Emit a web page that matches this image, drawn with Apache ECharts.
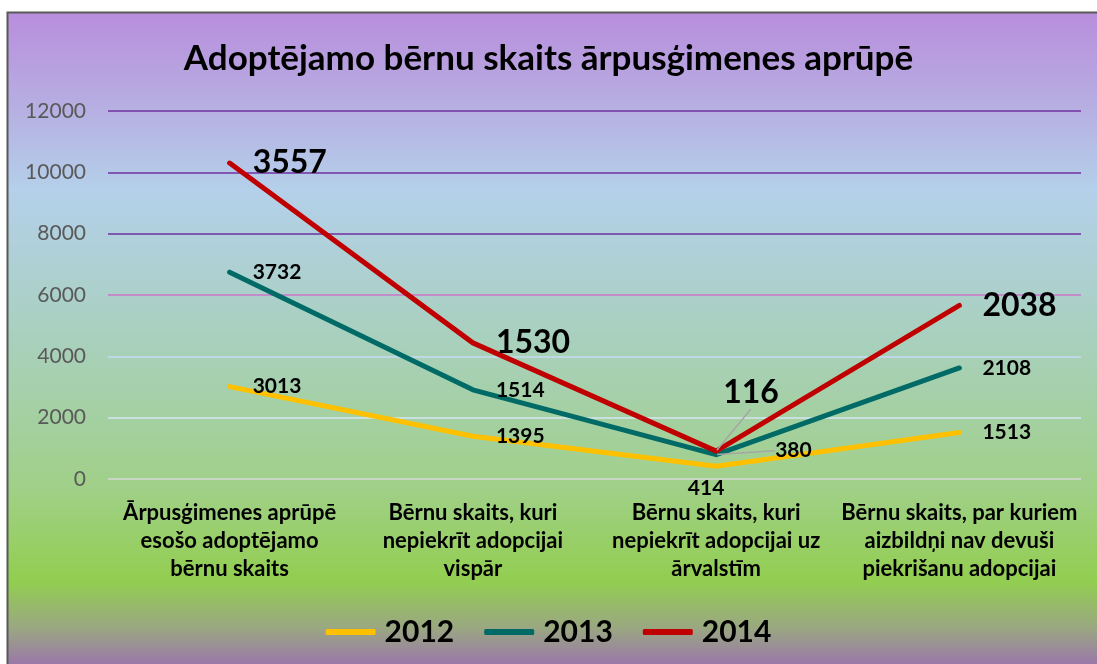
<!DOCTYPE html>
<html>
<head>
<meta charset="utf-8">
<script src="https://cdn.jsdelivr.net/npm/echarts@6/dist/echarts.min.js"></script>
<style>
  html, body { margin: 0; padding: 0; background: #fff; }
  #main { width: 1097px; height: 664px; }
</style>
</head>
<body>
<div id="main"></div>
<script>
// dati
const categories = [
    'Ārpusģimenes aprūpē\nesošo adoptējamo\nbērnu skaits',
    'Bērnu skaits, kuri\nnepiekrīt adopcijai\nvispār',
    'Bērnu skaits, kuri\nnepiekrīt adopcijai uz\nārvalstīm',
    'Bērnu skaits, par kuriem\naizbildņi nav devuši\npiekrišanu adopcijai'
];
const years = ['2012', '2013', '2014'];
const values2012 = [3013, 1395, 414, 1513];
const values2013 = [3732, 1514, 380, 2108];
const values2014 = [3557, 1530, 116, 2038];
const yTicks = [0, 2000, 4000, 6000, 8000, 10000, 12000];

const FONT = 'Lato';
const colors = ['#ffc000', '#006b66', '#c00000'];

// special: 3. kategorijas etiķetes ar izvilkuma līniju
function lineSeries(name, data, fontSize, special) {
    return {
        name: name, type: 'line', stack: 'total',
        data: data.map(function (v, i) {
            if (i === 2 && special) return Object.assign({value: v}, special);
            return v;
        }),
        symbol: 'circle', symbolSize: 2, showSymbol: true,
        lineStyle: {width: 5, cap: 'round', join: 'round'},
        label: {show: true, position: 'right', distance: 22, color: '#000',
            fontFamily: FONT, fontWeight: 'bold', fontSize: fontSize},
        labelLine: {show: false, lineStyle: {color: '#a6a6a6', width: 1.5}}
    };
}

let myChart = echarts.init(document.getElementById('main'));

let s2012 = lineSeries('2012', values2012, 21, {label: {position: 'bottom', distance: 10, offset: [-10, 0]}});
let s2013 = lineSeries('2013', values2013, 21, {labelLine: {show: true}});
s2013.labelLayout = function (p) {
    if (p.dataIndex === 2) return {dx: 36, dy: -4};
    return {};
};
let s2014 = lineSeries('2014', values2014, 32, {labelLine: {show: true}});
s2014.labelLayout = function (p) {
    if (p.dataIndex === 2) return {dx: -16, dy: -58};
    return {};
};

let option = {
    animation: false,
    color: colors,
    title: {
        text: 'Adoptējamo bērnu skaits ārpusģimenes aprūpē',
        left: 'center', top: 36,
        textStyle: {fontFamily: FONT, fontWeight: 'bold', fontSize: 35, color: '#000'}
    },
    graphic: [{
        type: 'rect', z: -10, silent: true,
        shape: {x: 7.5, y: 12.5, width: 1100, height: 660},
        style: {
            stroke: '#595959', lineWidth: 2,
            fill: {
                type: 'linear', x: 0, y: 0, x2: 0, y2: 1,
                colorStops: [
                    {offset: 0, color: '#b98ddc'},
                    {offset: 0.15, color: '#b6b0e2'},
                    {offset: 0.27, color: '#b4d0ea'},
                    {offset: 0.5, color: '#a8d0bc'},
                    {offset: 0.72, color: '#a0d088'},
                    {offset: 0.86, color: '#92ce50'},
                    {offset: 0.93, color: '#9aa880'},
                    {offset: 1, color: '#9a6cb4'}
                ]
            }
        }
    }],
    legend: {
        data: years,
        top: 612, left: 'center',
        icon: 'roundRect', itemWidth: 50, itemHeight: 6, itemGap: 30,
        textStyle: {fontFamily: FONT, fontWeight: 'bold', fontSize: 30, color: '#000', padding: [0, 0, 0, 4]}
    },
    grid: {left: 108, right: 16, top: 111, bottom: 185},
    xAxis: {
        type: 'category',
        data: categories,
        axisLine: {show: false},
        axisTick: {show: false},
        axisLabel: {
            interval: 0, margin: 20, color: '#000', lineHeight: 28,
            fontFamily: FONT, fontWeight: 'bold', fontSize: 22
        }
    },
    yAxis: {
        type: 'value',
        min: yTicks[0], max: yTicks[yTicks.length - 1], interval: 2000,
        axisLine: {show: false},
        axisTick: {show: false},
        axisLabel: {
            margin: 22, color: '#595959', fontFamily: FONT, fontSize: 21,
            formatter: function (v) { return String(v); }
        },
        splitLine: {
            lineStyle: {
                width: 1.5,
                color: ['#d9d9d9', '#d6e6f4', '#c6dcf2', '#c878c8', '#7030a0', '#7030a0', '#7030a0']
            }
        }
    },
    series: [s2012, s2013, s2014]
};

myChart.setOption(option);
</script>
</body>
</html>
